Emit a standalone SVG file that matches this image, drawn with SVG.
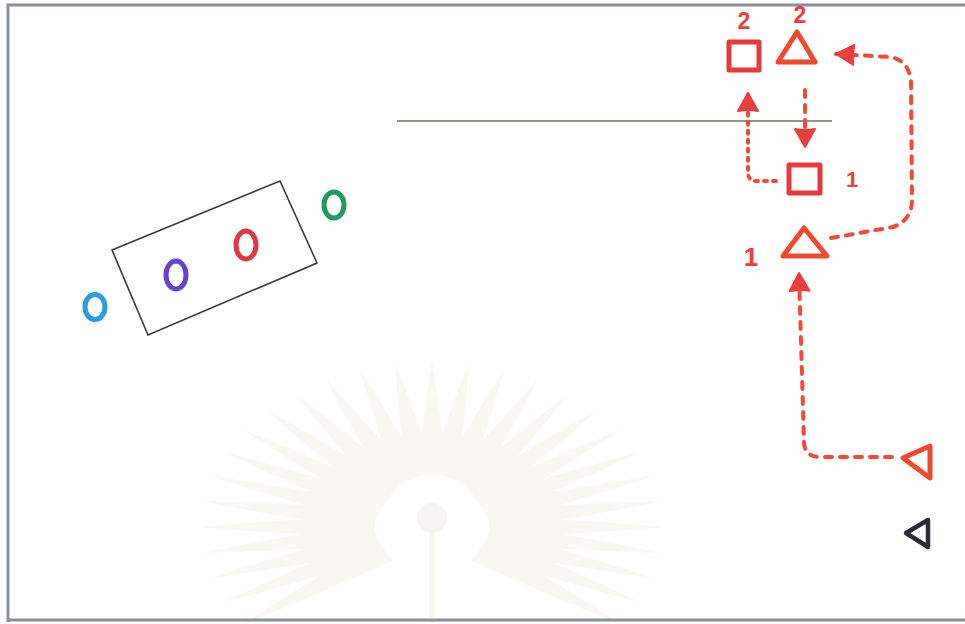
<svg xmlns="http://www.w3.org/2000/svg" width="965" height="624" viewBox="0 0 965 624">
  <style>
    .frame { stroke: #8a8f98; stroke-width: 3; fill: none; }
    .red-sq { fill: none; stroke: #e6383f; stroke-width: 5; stroke-linejoin: round; }
    .red-tri { fill: none; stroke: #ef4a30; stroke-width: 5; stroke-linejoin: round; }
    .blk-tri { fill: none; stroke: #2b2b38; stroke-width: 4.5; stroke-linejoin: round; }
    .ring { fill: none; stroke-width: 5; }
    .conn { fill: none; stroke: #ef4b3a; stroke-width: 4; stroke-linecap: round; stroke-linejoin: round; }
    .dash { stroke-dasharray: 7 8; }
    .dot { stroke-dasharray: 3 6; }
    .num { font-family: "Liberation Sans", Arial, sans-serif; font-weight: bold; fill: #e8403a; text-anchor: middle; }
    .ray { fill: #f9f8f2; }
  </style>
  <defs>
    <marker id="ah" markerUnits="userSpaceOnUse" viewBox="0 0 20 22" markerWidth="20" markerHeight="22" refX="19" refY="11" orient="auto">
      <path d="M1,1 L19,11 L1,21 Q3,11 1,1 z" fill="#ea3f3c" stroke="#ea3f3c" stroke-width="2" stroke-linejoin="round"/>
    </marker>
    <path id="rayshape" d="M-14,-52 Q-8,-150 0,-212 Q8,-150 14,-52 z" class="ray"/>
  </defs>

  <rect x="0" y="0" width="965" height="624" fill="#ffffff"/>

  <!-- faint watermark -->
  <g id="watermark">
    <g transform="translate(432,527) scale(1.1,0.78)">
      <use href="#rayshape" transform="rotate(-126)"/>
      <use href="#rayshape" transform="rotate(-117)"/>
      <use href="#rayshape" transform="rotate(-108)"/>
      <use href="#rayshape" transform="rotate(-99)"/>
      <use href="#rayshape" transform="rotate(-90)"/>
      <use href="#rayshape" transform="rotate(-81)"/>
      <use href="#rayshape" transform="rotate(-72)"/>
      <use href="#rayshape" transform="rotate(-63)"/>
      <use href="#rayshape" transform="rotate(-54)"/>
      <use href="#rayshape" transform="rotate(-45)"/>
      <use href="#rayshape" transform="rotate(-36)"/>
      <use href="#rayshape" transform="rotate(-27)"/>
      <use href="#rayshape" transform="rotate(-18)"/>
      <use href="#rayshape" transform="rotate(-9)"/>
      <use href="#rayshape" transform="rotate(0)"/>
      <use href="#rayshape" transform="rotate(9)"/>
      <use href="#rayshape" transform="rotate(18)"/>
      <use href="#rayshape" transform="rotate(27)"/>
      <use href="#rayshape" transform="rotate(36)"/>
      <use href="#rayshape" transform="rotate(45)"/>
      <use href="#rayshape" transform="rotate(54)"/>
      <use href="#rayshape" transform="rotate(63)"/>
      <use href="#rayshape" transform="rotate(72)"/>
      <use href="#rayshape" transform="rotate(81)"/>
      <use href="#rayshape" transform="rotate(90)"/>
      <use href="#rayshape" transform="rotate(99)"/>
      <use href="#rayshape" transform="rotate(108)"/>
      <use href="#rayshape" transform="rotate(117)"/>
      <use href="#rayshape" transform="rotate(126)"/>
    </g>
    <circle cx="432" cy="527" r="52" fill="#ffffff"/>
    <circle cx="432" cy="518" r="15" fill="#f6f5f1"/>
    <rect x="429" y="533" width="6" height="90" fill="#f8f7f2"/>
  </g>

  <!-- frame -->
  <path class="frame" d="M8,622 L8,5 L965,5"/>
  <path class="frame" d="M8,620 L965,620"/>

  <!-- horizontal line -->
  <line id="baseline" x1="397" y1="121" x2="832" y2="121" stroke="#8e9a80" stroke-width="2"/>

  <!-- left group -->
  <g id="box">
    <polygon points="112,250 280,181 317,263 148,335" fill="none" stroke="#3a3a3a" stroke-width="1.6"/>
  </g>
  <g id="ring-blue"><ellipse class="ring" cx="95" cy="307" rx="10" ry="12.5" stroke="#2a9ee2"/></g>
  <g id="ring-purple"><ellipse class="ring" cx="176" cy="275" rx="10" ry="14" stroke="#6a40d0"/></g>
  <g id="ring-red"><ellipse class="ring" cx="246" cy="245" rx="10" ry="14" stroke="#e0374a"/></g>
  <g id="ring-green"><ellipse class="ring" cx="334" cy="205" rx="10" ry="13" stroke="#1f9a60"/></g>

  <!-- connectors -->
  <g id="connectors">
    <path class="conn dash" d="M831,238 L893,227 Q912,220 912,200 L911,82 Q909,60 890,57 L836,54" marker-end="url(#ah)"/>
    <path class="conn dash" d="M805,90 L805,147" marker-end="url(#ah)"/>
    <path class="conn dot" d="M776,181 L756,181 Q748,181 748,172 L748,93" marker-end="url(#ah)"/>
    <path class="conn dash" d="M892,457 L820,457 Q805,457 804,443 L799,273" marker-end="url(#ah)"/>
  </g>

  <!-- right side nodes -->
  <g id="square-2">
    <rect class="red-sq" x="729" y="42" width="30" height="28"/>
    <text class="num" x="744" y="29" font-size="23">2</text>
  </g>
  <g id="triangle-2">
    <polygon class="red-tri" points="778,62 797,32 815,62"/>
    <text class="num" x="800" y="23" font-size="23">2</text>
  </g>
  <g id="square-1">
    <rect class="red-sq" x="789" y="165" width="31" height="28"/>
    <text class="num" x="852" y="187" font-size="22">1</text>
  </g>
  <g id="triangle-1">
    <polygon class="red-tri" points="783,256 804,228 827,256"/>
    <text class="num" x="751" y="266" font-size="26">1</text>
  </g>
  <g id="triangle-left">
    <polygon class="red-tri" points="903,458 930,446 930,478"/>
  </g>
  <g id="triangle-black">
    <polygon class="blk-tri" points="906,533 928,520 928,547"/>
  </g>
</svg>
